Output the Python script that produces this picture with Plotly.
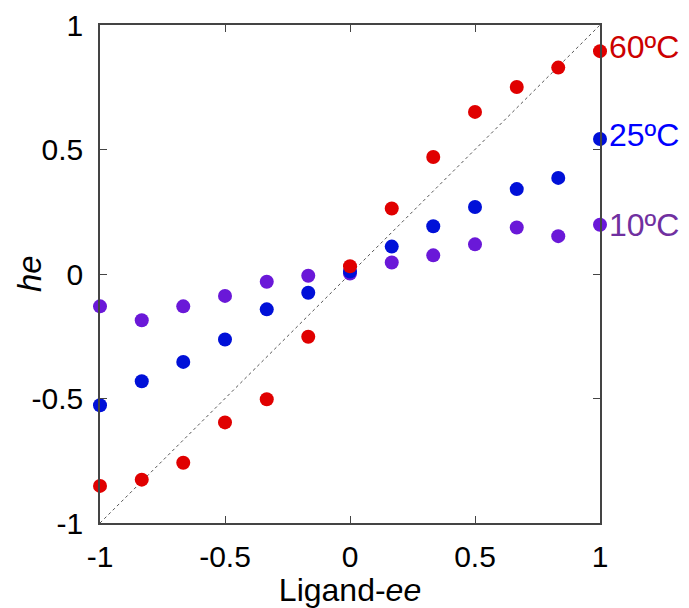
import plotly.graph_objects as go

ee = [-1, -0.833, -0.667, -0.5, -0.333, -0.167, 0, 0.167, 0.333, 0.5, 0.667, 0.833, 1]
he_60 = [-0.851, -0.826, -0.758, -0.596, -0.503, -0.252, 0.031, 0.263, 0.470, 0.651, 0.751, 0.829, 0.895]
he_25 = [-0.527, -0.431, -0.353, -0.263, -0.142, -0.075, 0.01, 0.110, 0.192, 0.269, 0.341, 0.386, 0.542]
he_10 = [-0.130, -0.186, -0.130, -0.088, -0.031, -0.007, 0.002, 0.046, 0.075, 0.119, 0.187, 0.152, 0.198]
labels = ["60ºC", "25ºC", "10ºC"]
label_y = [0.91, 0.558, 0.197]
ticks = [-1, -0.5, 0, 0.5, 1]
tick_text = ["-1", "-0.5", "0", "0.5", "1"]

marker_colors = ["#e00000", "#0010d8", "#6a18d8"]
label_colors = ["#cc0000", "#0000ff", "#7030a0"]
FONT = "Liberation Sans, Arial, sans-serif"

fig = go.Figure()
fig.add_trace(go.Scatter(x=[-1, 1], y=[-1, 1], mode="lines",
                         line=dict(color="#555555", width=1, dash="dot"),
                         showlegend=False, hoverinfo="skip"))
for ys, c in zip([he_10, he_25, he_60], [marker_colors[2], marker_colors[1], marker_colors[0]]):
    fig.add_trace(go.Scatter(x=ee, y=ys, mode="markers",
                             marker=dict(color=c, size=14, line=dict(width=0)),
                             showlegend=False, cliponaxis=False))

for t, yv, c in zip(labels, label_y, label_colors):
    fig.add_annotation(x=1, y=yv, xref="x", yref="y", text=t, showarrow=False,
                       xanchor="left", xshift=7, font=dict(size=32, color=c, family=FONT))

# y-axis title placed like the reference (close to the tick labels)
fig.add_annotation(x=0, y=0.5, xref="paper", yref="paper", text="<i>he</i>",
                   showarrow=False, textangle=-90, xanchor="center", yanchor="middle",
                   xshift=-71, font=dict(size=33, color="black", family=FONT))

axis_common = dict(showgrid=False, zeroline=False, showline=True, linecolor="#444444",
                   linewidth=1.5, mirror="ticks", ticks="inside", ticklen=7,
                   tickcolor="#444444", tickwidth=1.2, automargin=False,
                   tickfont=dict(size=30, color="black", family=FONT),
                   tickvals=ticks, ticktext=tick_text)

fig.update_layout(
    width=689, height=608,
    margin=dict(l=100, r=89, t=25, b=85),
    plot_bgcolor="white", paper_bgcolor="white",
    xaxis=dict(range=[-1, 1], ticklabelstandoff=6,
               title=dict(text="Ligand-<i>ee</i>", standoff=0,
                          font=dict(size=32, color="black", family=FONT)),
               **axis_common),
    yaxis=dict(range=[-1, 1], ticklabelstandoff=9, **axis_common),
)
fig.write_html("out.html")
